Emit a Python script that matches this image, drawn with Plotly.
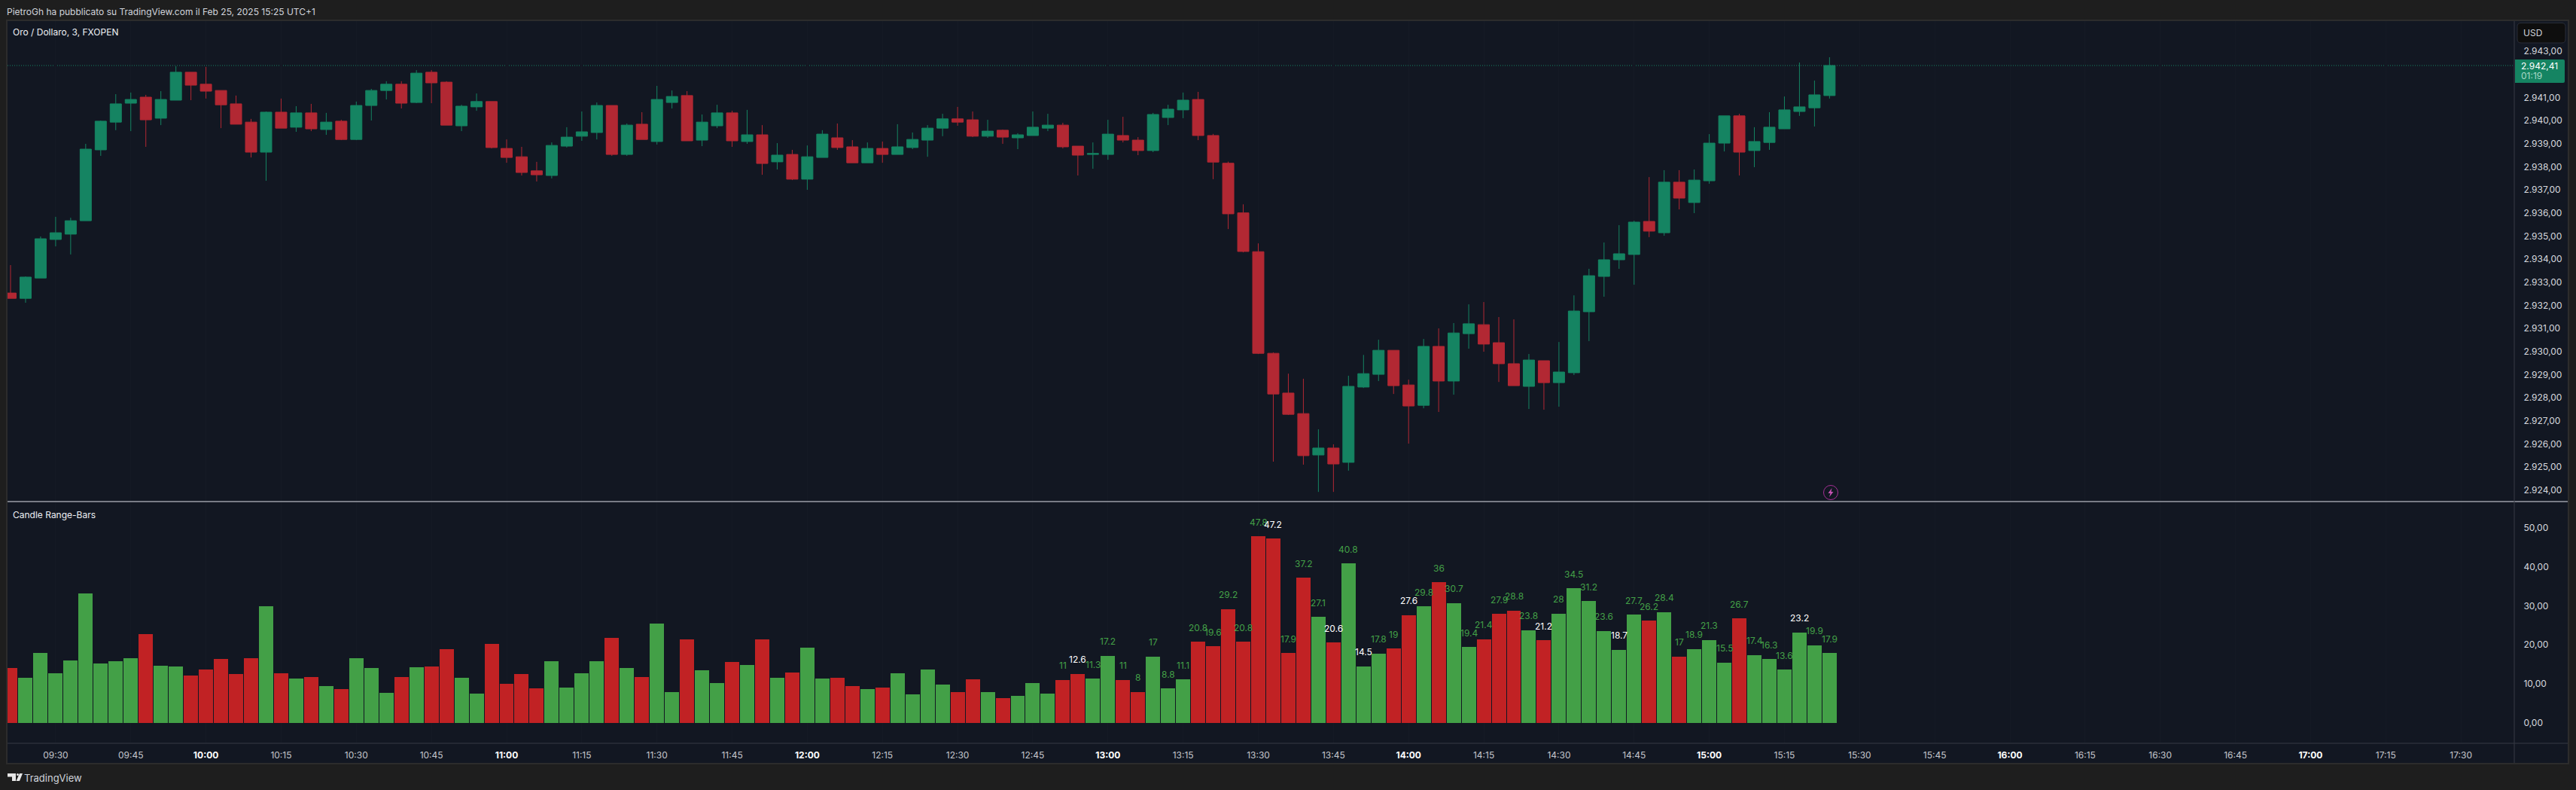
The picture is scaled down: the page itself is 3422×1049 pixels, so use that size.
import pandas as pd
import plotly.graph_objects as go

W, H = 3422, 1049
START = "2025-02-25 09:21"

opens = [2932.53,2932.30,2933.18,2934.85,2935.08,2935.66,2938.73,2939.93,2940.75,2941.01,
 2940.10,2940.88,2942.09,2941.57,2941.30,2940.72,2939.93,2938.63,2940.36,2939.71,
 2940.33,2939.61,2939.97,2939.18,2940.65,2941.30,2941.57,2940.78,2942.09,2941.66,
 2939.77,2940.59,2940.82,2938.79,2938.43,2937.82,2937.62,2938.89,2939.32,2939.48,
 2940.65,2938.53,2939.84,2939.09,2940.78,2941.08,2939.15,2939.77,2940.33,2939.09,
 2939.38,2938.21,2938.53,2937.46,2938.40,2939.25,2938.86,2938.17,2938.79,2938.53,
 2938.83,2939.15,2939.67,2940.07,2940.03,2939.32,2939.58,2939.25,2939.35,2939.67,
 2939.80,2938.89,2938.53,2938.53,2939.35,2939.15,2938.70,2940.13,2940.46,2940.91,
 2939.35,2938.15,2936.00,2934.32,2929.92,2928.20,2927.31,2925.52,2925.82,2925.20,
 2928.46,2929.01,2930.05,2928.55,2927.67,2930.22,2928.72,2930.77,2931.16,2930.38,
 2929.47,2928.49,2929.60,2928.65,2929.08,2931.72,2933.25,2933.97,2934.20,2935.63,
 2935.14,2937.33,2936.45,2937.39,2939.02,2940.20,2938.70,2939.05,2939.64,2940.39,
 2940.55,2941.08]
highs = [2933.74,2933.25,2934.98,2935.83,2935.79,2938.99,2940.00,2941.14,2941.21,2941.11,
 2941.27,2942.35,2942.09,2942.32,2941.30,2941.08,2940.07,2940.39,2940.95,2940.62,
 2940.72,2940.33,2940.03,2940.82,2941.37,2941.70,2941.70,2942.18,2942.18,2941.70,
 2940.68,2941.17,2940.82,2939.18,2938.86,2938.21,2939.05,2939.71,2940.39,2940.78,
 2940.65,2939.87,2940.36,2941.50,2941.30,2941.27,2940.26,2940.68,2940.42,2940.46,
 2939.80,2939.02,2938.73,2938.92,2939.58,2939.87,2939.15,2939.05,2939.09,2939.84,
 2939.48,2939.80,2940.29,2940.59,2940.39,2940.03,2939.61,2939.45,2940.39,2940.29,
 2939.90,2938.89,2939.05,2940.03,2940.16,2939.28,2940.33,2940.68,2941.21,2941.24,
 2939.42,2938.22,2936.37,2934.68,2929.96,2929.04,2928.82,2926.63,2925.98,2928.95,
 2929.85,2930.51,2930.05,2928.78,2930.54,2931.00,2931.23,2932.04,2932.14,2931.49,
 2931.39,2929.89,2929.60,2930.41,2932.43,2933.58,2934.72,2935.47,2935.66,2937.55,
 2937.85,2937.85,2937.88,2939.41,2940.20,2940.29,2939.71,2940.36,2941.04,2942.51,
 2941.73,2942.74]
lows = [2932.30,2932.11,2933.18,2934.55,2934.20,2935.66,2938.47,2939.58,2939.54,2938.86,
 2939.80,2940.88,2940.88,2940.95,2939.67,2939.84,2938.40,2937.39,2939.67,2939.51,
 2939.54,2939.38,2939.15,2939.15,2940.00,2940.91,2940.52,2940.75,2940.75,2939.80,
 2939.54,2940.42,2938.79,2938.17,2937.62,2937.36,2937.49,2938.83,2939.12,2939.18,
 2938.47,2938.47,2939.18,2938.96,2940.52,2939.12,2938.89,2939.67,2938.86,2938.99,
 2937.65,2937.88,2937.42,2937.00,2938.40,2938.73,2938.17,2938.17,2938.17,2938.53,
 2938.76,2938.43,2939.32,2939.77,2939.28,2939.25,2938.99,2938.76,2939.35,2939.54,
 2938.79,2937.62,2937.91,2938.30,2939.05,2938.50,2938.63,2939.80,2940.10,2939.15,
 2937.46,2935.30,2934.29,2929.89,2925.23,2927.25,2925.10,2923.92,2923.92,2924.84,
 2928.42,2928.72,2928.16,2926.01,2927.54,2927.38,2928.13,2930.12,2929.99,2928.68,
 2928.52,2927.51,2927.48,2927.61,2928.98,2930.45,2932.37,2933.58,2932.89,2934.95,
 2935.01,2936.15,2935.99,2937.26,2938.66,2937.62,2937.98,2938.73,2939.64,2940.20,
 2939.74,2940.95]
closes = [2932.30,2933.22,2934.88,2935.14,2935.66,2938.76,2939.97,2940.72,2940.91,2940.03,
 2940.91,2942.09,2941.53,2941.27,2940.68,2939.84,2938.63,2940.36,2939.67,2940.33,
 2939.64,2939.93,2939.18,2940.65,2941.30,2941.57,2940.75,2942.05,2941.63,2939.80,
 2940.62,2940.82,2938.83,2938.40,2937.75,2937.65,2938.92,2939.28,2939.51,2940.65,
 2938.53,2939.80,2939.18,2940.91,2941.04,2939.12,2939.93,2940.33,2939.12,2939.38,
 2938.14,2938.50,2937.46,2938.43,2939.41,2938.83,2938.17,2938.79,2938.53,2938.86,
 2939.18,2939.67,2940.07,2939.93,2939.32,2939.54,2939.28,2939.38,2939.71,2939.80,
 2938.86,2938.50,2938.57,2939.41,2939.15,2938.70,2940.26,2940.49,2940.88,2939.35,
 2938.20,2935.96,2934.33,2929.92,2928.16,2927.28,2925.49,2925.82,2925.13,2928.49,
 2929.04,2930.05,2928.52,2927.64,2930.22,2928.72,2930.80,2931.20,2930.32,2929.47,
 2928.52,2929.63,2928.65,2929.11,2931.75,2933.28,2933.97,2934.23,2935.60,2935.21,
 2937.33,2936.64,2937.42,2939.02,2940.20,2938.63,2939.09,2939.71,2940.46,2940.59,
 2941.11,2942.38]

range_values = [14.1,11.6,17.9,12.7,16.0,33.2,15.2,15.8,16.6,22.8,14.7,14.5,12.2,13.7,16.4,12.5,16.6,29.9,12.7,11.4,
 11.8,9.5,8.7,16.6,14.1,7.7,11.8,14.3,14.5,18.9,11.6,7.5,20.2,10.0,12.5,8.9,15.8,9.1,12.7,15.8,
 21.8,14.1,11.8,25.5,7.9,21.4,13.5,10.2,15.6,14.9,21.4,11.6,12.9,19.3,11.4,11.6,9.5,8.7,9.1,12.7,
 7.3,13.7,9.8,7.9,11.2,7.9,6.4,6.9,10.2,7.5,
 11,12.6,11.3,17.2,11,8,17,8.8,11.1,20.8,19.6,29.2,20.8,47.8,47.2,17.9,37.2,27.1,20.6,40.8,
 14.5,17.8,19,27.6,29.8,36,30.7,19.4,21.4,27.9,28.8,23.8,21.2,28,34.5,31.2,23.6,18.7,27.7,26.2,
 28.4,17,18.9,21.3,15.5,26.7,17.4,16.3,13.6,23.2,19.9,17.9]
range_flags = list("RGGGGGGGGRGGRRRRRGRGRGRGGGRGRRGGRRRRGGGG"
                   "RGRGGRGGRGRGRGGRRGRGGGGRRGRGGG"
                   "RRGGRRGGGRRRRRRRRGRGGGRRGRGGRRRGRGGGGGGRGRGGGRGGGGGG")
labelled_from = 70
white_labels = [12.6, 47.2, 20.6, 14.5, 27.6, 21.2, 18.7, 23.2]

price_ticks = [2943,2941,2940,2939,2938,2937,2936,2935,2934,2933,2932,2931,2930,2929,2928,2927,2926,2925,2924]
price_tick_text = ["2.943,00","2.941,00","2.940,00","2.939,00","2.938,00","2.937,00","2.936,00","2.935,00","2.934,00",
 "2.933,00","2.932,00","2.931,00","2.930,00","2.929,00","2.928,00","2.927,00","2.926,00","2.925,00","2.924,00"]
range_ticks = [0,10,20,30,40,50]
range_tick_text = ["0,00","10,00","20,00","30,00","40,00","50,00"]
time_ticks = ["09:30","09:45","10:00","10:15","10:30","10:45","11:00","11:15","11:30","11:45","12:00","12:15","12:30","12:45",
 "13:00","13:15","13:30","13:45","14:00","14:15","14:30","14:45","15:00","15:15","15:30","15:45","16:00","16:15","16:30",
 "16:45","17:00","17:15","17:30"]

times = pd.date_range(START, periods=len(opens), freq="3min")

BG_OUT, FRAME, BG = "#1e1e1e", "#2c2c2c", "#121722"
UP, DOWN = "#158462", "#b22833"
BAR_UP, BAR_DOWN = "#43a047", "#c12224"
AXIS_LINE, TXT = "#363a45", "#d1d4dc"
FONT = "Inter"


def px(x):
    return x / W


def py(y):
    return 1 - y / H


fig = go.Figure()
fig.add_trace(go.Candlestick(
    x=times, open=opens, high=highs, low=lows, close=closes, xaxis="x", yaxis="y",
    increasing=dict(line=dict(color=UP, width=1), fillcolor=UP),
    decreasing=dict(line=dict(color=DOWN, width=1), fillcolor=DOWN),
    whiskerwidth=0, showlegend=False, name="Oro / Dollaro"))
fig.add_trace(go.Bar(
    x=times, y=range_values, xaxis="x2", yaxis="y2", width=171000,
    marker=dict(color=[BAR_UP if f == "G" else BAR_DOWN for f in range_flags], line=dict(width=0)),
    showlegend=False, name="Candle Range-Bars"))

annotations = []
for t, v in list(zip(times, range_values))[labelled_from:]:
    annotations.append(dict(
        x=t, y=v, xref="x2", yref="y2", text=f"{v:g}", showarrow=False, yanchor="middle", xanchor="center",
        yshift=19, font=dict(family=FONT, size=12, color="#ffffff" if v in white_labels else BAR_UP)))


def label(x, y, text, size=12, color=TXT, anchor="left"):
    annotations.append(dict(x=px(x), y=py(y), xref="paper", yref="paper", text=text, showarrow=False,
                            xanchor=anchor, yanchor="middle", font=dict(family=FONT, size=size, color=color),
                            borderpad=0, borderwidth=0))


label(9, 15.5, "PietroGh ha pubblicato su TradingView.com il Feb 25, 2025 15:25 UTC+1", 12)
label(17, 43, "Oro / Dollaro, 3, FXOPEN", 12, "#eef0f4")
label(17, 683, "Candle Range-Bars", 12, "#eef0f4")
label(32, 1033, "TradingView", 13)
label(3352, 43.5, "USD", 12)
label(3349, 87, "2.942,41", 12, "#ffffff")
label(3349, 100.5, "01:19", 12, "#a9d8c6")


def rect(x0, y0, x1, y1, fill=None, line=None, lw=1, layer="below"):
    return dict(type="rect", xref="paper", yref="paper", x0=px(x0), x1=px(x1), y0=py(y0), y1=py(y1),
                fillcolor=fill or "rgba(0,0,0,0)", line=dict(color=line or "rgba(0,0,0,0)", width=lw if line else 0),
                layer=layer)


def hline(x0, x1, y, color, lw=1):
    return dict(type="line", xref="paper", yref="paper", x0=px(x0), x1=px(x1), y0=py(y), y1=py(y),
                line=dict(color=color, width=lw), layer="above")


def vline(x, y0, y1, color, lw=1):
    return dict(type="line", xref="paper", yref="paper", x0=px(x), x1=px(x), y0=py(y0), y1=py(y1),
                line=dict(color=color, width=lw), layer="above")


def path(points, fill, line=None, lw=0):
    d = "M " + " L ".join(f"{px(a):.6f},{py(b):.6f}" for a, b in points) + " Z"
    return dict(type="path", xref="paper", yref="paper", path=d, fillcolor=fill,
                line=dict(color=line or "rgba(0,0,0,0)", width=lw), layer="above")


def rounded(x0, y0, x1, y1, r, fill, line=None, corners=(1, 1, 1, 1)):
    tl, tr, br, bl = [r * c for c in corners]
    X, Y = px, py
    d = (f"M {X(x0 + tl):.6f},{Y(y0):.6f} L {X(x1 - tr):.6f},{Y(y0):.6f} "
         f"Q {X(x1):.6f},{Y(y0):.6f} {X(x1):.6f},{Y(y0 + tr):.6f} L {X(x1):.6f},{Y(y1 - br):.6f} "
         f"Q {X(x1):.6f},{Y(y1):.6f} {X(x1 - br):.6f},{Y(y1):.6f} L {X(x0 + bl):.6f},{Y(y1):.6f} "
         f"Q {X(x0):.6f},{Y(y1):.6f} {X(x0):.6f},{Y(y1 - bl):.6f} L {X(x0):.6f},{Y(y0 + tl):.6f} "
         f"Q {X(x0):.6f},{Y(y0):.6f} {X(x0 + tl):.6f},{Y(y0):.6f} Z")
    return dict(type="path", xref="paper", yref="paper", path=d, fillcolor=fill,
                line=dict(color=line or "rgba(0,0,0,0)", width=1 if line else 0), layer="above")


shapes = [
    rect(9, 27, 3412, 1014, fill=BG, line=FRAME, lw=2),
    dict(type="line", xref="paper", yref="y", x0=px(10), x1=px(3340), y0=closes[-1], y1=closes[-1],
         line=dict(color=UP, width=1, dash="1px,2px"), layer="below"),
    hline(10, 3411, 666, "#dfe2ea", 1),
    hline(10, 3411, 987, AXIS_LINE, 1),
    vline(3340, 28, 1013, AXIS_LINE, 1),
    rounded(3344, 30.5, 3408, 57, 5, "#0e0e0e", "#2a2e39"),
    rounded(3341, 79, 3407, 110, 2, UP, corners=(0, 1, 1, 0)),
    # publisher logo
    path([(10, 1027), (21, 1027), (21, 1037), (16, 1037), (16, 1031.5), (10, 1031.5)], "#e6e6e6"),
    path([(26, 1027), (30, 1027), (26, 1037), (21.5, 1037)], "#e6e6e6"),
    dict(type="circle", xref="paper", yref="paper", x0=px(22), x1=px(25), y0=py(1027), y1=py(1030),
         fillcolor="#e6e6e6", line=dict(width=0), layer="above"),
    # lightning marker in the price pane
    dict(type="circle", xref="paper", yref="paper", x0=px(2422.5), x1=px(2441.5), y0=py(644.5), y1=py(663.5),
         fillcolor="rgba(0,0,0,0)", line=dict(color="#a52f95", width=1), layer="above"),
    path([(2433.5, 648), (2428.5, 655), (2431.5, 655), (2430, 660), (2435.5, 653), (2432.5, 653)], "#c653b4"),
]

bold_hours = [f"<b><span style='color:#ffffff'>{t}</span></b>" if t.endswith(":00") else t for t in time_ticks]
tick_dates = [f"2025-02-25 {t}" for t in time_ticks]
x_range = ["2025-02-25 09:20:24", "2025-02-25 17:40:39"]
x_domain = [px(10), px(3340)]
GRID = "#151a25"

fig.update_layout(
    width=W, height=H, margin=dict(l=0, r=0, t=0, b=0), autosize=False,
    paper_bgcolor=BG_OUT, plot_bgcolor=BG, showlegend=False, boxgap=0.25, boxgroupgap=0, bargap=0,
    font=dict(family=FONT, size=12, color=TXT),
    hovermode=False,
    xaxis=dict(domain=x_domain, range=x_range, type="date", anchor="y", showticklabels=False, ticks="",
               tickvals=tick_dates, showgrid=True, gridcolor=GRID, gridwidth=1, zeroline=False,
               showline=False, rangeslider=dict(visible=False)),
    yaxis=dict(domain=[py(666), py(28)], range=[2923.502, 2944.304], side="right", anchor="x",
               tickvals=price_ticks, ticktext=price_tick_text, showgrid=False, zeroline=False, showline=False,
               ticks="outside", ticklen=9, tickcolor="rgba(0,0,0,0)",
               tickfont=dict(family=FONT, size=12, color="#d6d8de")),
    xaxis2=dict(domain=x_domain, range=x_range, type="date", anchor="y2", side="bottom",
                tickvals=tick_dates, ticktext=bold_hours, showgrid=True, gridcolor=GRID, gridwidth=1,
                zeroline=False, showline=False, ticks="outside", ticklen=5, tickcolor="rgba(0,0,0,0)",
                tickangle=0, tickfont=dict(family=FONT, size=12, color="#c4c6cc")),
    yaxis2=dict(domain=[py(987), py(667)], range=[-5.204, 56.48], side="right", anchor="x2",
                tickvals=range_ticks, ticktext=range_tick_text, showgrid=False, zeroline=False, showline=False,
                ticks="outside", ticklen=9, tickcolor="rgba(0,0,0,0)",
                tickfont=dict(family=FONT, size=12, color="#d6d8de")),
    annotations=annotations,
    shapes=shapes,
)

fig.write_html("out.html", config={"displayModeBar": False},
               post_script="document.body.style.margin='0';document.body.style.overflow='hidden';")
